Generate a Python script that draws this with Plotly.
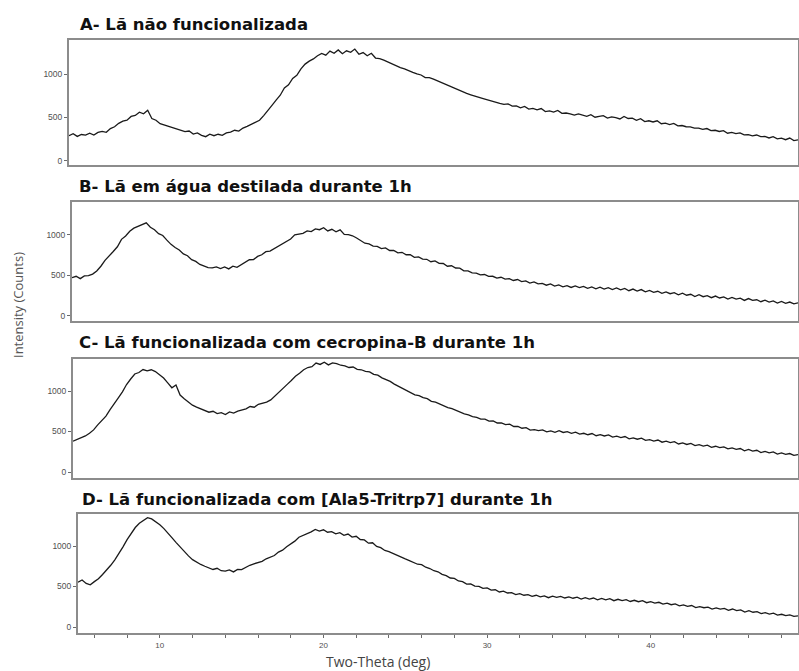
import plotly.graph_objects as go

# ---------------- data ----------------
two_theta_start = 5.0
two_theta_step = 0.25
n_points = 177
two_theta = [two_theta_start + two_theta_step * i for i in range(n_points)]

intensity_a = [
    290, 312, 281, 303, 296, 318, 297, 327, 338, 328, 372, 393,
    432, 458, 468, 512, 523, 561, 542, 583, 488, 468, 428, 412,
    396, 378, 368, 347, 336, 343, 308, 322, 294, 278, 306, 289,
    306, 293, 322, 331, 352, 343, 378, 398, 422, 446, 468, 522,
    588, 641, 702, 758, 842, 878, 952, 988, 1062, 1118, 1152, 1178,
    1214, 1242, 1222, 1268, 1244, 1282, 1238, 1272, 1254, 1292, 1232, 1252,
    1214, 1243, 1188, 1182, 1164, 1142, 1118, 1102, 1078, 1063, 1047, 1022,
    1004, 992, 962, 962, 944, 923, 898, 882, 858, 838, 818, 793,
    778, 762, 743, 732, 718, 703, 688, 672, 662, 652, 658, 632,
    634, 612, 628, 598, 606, 588, 603, 568, 577, 562, 582, 548,
    552, 543, 528, 542, 528, 514, 532, 503, 512, 522, 493, 507,
    498, 483, 512, 488, 492, 468, 487, 453, 462, 448, 462, 428,
    434, 418, 432, 403, 407, 393, 392, 378, 377, 363, 372, 348,
    352, 338, 347, 318, 327, 313, 322, 298, 302, 288, 297, 278,
    280, 263, 277, 253, 260, 243, 262, 233, 242,
]

intensity_b = [
    472, 490, 461, 494, 498, 517, 556, 614, 686, 747, 796, 854,
    946, 987, 1046, 1084, 1106, 1137, 1150, 1096, 1064, 1016, 994, 936,
    884, 846, 814, 766, 744, 696, 674, 636, 614, 596, 594, 605,
    586, 605, 581, 614, 601, 634, 656, 694, 696, 735, 756, 794,
    800, 830, 851, 890, 920, 950, 1001, 1010, 1020, 1050, 1041, 1075,
    1065, 1090, 1050, 1070, 1040, 1064, 1006, 1005, 990, 962, 930, 898,
    890, 862, 860, 832, 840, 808, 810, 780, 786, 756, 756, 724,
    730, 702, 700, 670, 680, 650, 648, 614, 620, 592, 590, 558,
    556, 532, 530, 508, 512, 488, 490, 468, 478, 455, 462, 438,
    450, 425, 432, 405, 420, 396, 402, 380, 395, 368, 383, 360,
    375, 352, 370, 350, 366, 342, 358, 335, 356, 332, 350, 326,
    346, 322, 340, 312, 332, 308, 326, 298, 316, 292, 305, 280,
    298, 275, 288, 262, 282, 256, 268, 240, 262, 238, 250, 226,
    246, 222, 236, 208, 230, 208, 220, 192, 215, 192, 200, 176,
    196, 172, 186, 160, 180, 156, 172, 150, 162,
]

intensity_c = [
    380, 402, 418, 445, 478, 520, 582, 630, 690, 770, 838, 915,
    990, 1080, 1148, 1210, 1228, 1265, 1248, 1262, 1240, 1205, 1160, 1100,
    1040, 1075, 950, 905, 862, 825, 800, 782, 762, 738, 750, 722,
    732, 710, 742, 728, 752, 770, 780, 808, 800, 836, 848, 862,
    890, 935, 982, 1030, 1082, 1130, 1182, 1220, 1262, 1290, 1300, 1345,
    1328, 1355, 1322, 1348, 1338, 1318, 1310, 1290, 1296, 1268, 1262, 1242,
    1236, 1205, 1195, 1162, 1142, 1118, 1085, 1060, 1032, 1005, 985, 952,
    942, 918, 905, 872, 862, 838, 820, 795, 782, 758, 742, 718,
    706, 685, 675, 652, 652, 628, 630, 605, 606, 585, 590, 562,
    562, 540, 548, 518, 522, 510, 520, 495, 508, 490, 510, 488,
    498, 478, 492, 468, 478, 460, 475, 448, 460, 445, 458, 430,
    442, 425, 438, 410, 422, 405, 418, 390, 400, 382, 395, 368,
    380, 362, 375, 346, 360, 340, 352, 325, 338, 320, 332, 305,
    318, 300, 310, 285, 298, 280, 290, 262, 278, 258, 268, 240,
    255, 236, 248, 222, 235, 218, 228, 205, 215,
]

intensity_d = [
    552, 580, 538, 520, 560, 595, 648, 700, 762, 830, 905, 990,
    1078, 1150, 1228, 1280, 1318, 1350, 1335, 1300, 1262, 1215, 1162, 1100,
    1042, 985, 932, 878, 832, 800, 772, 750, 732, 710, 725, 695,
    690, 705, 680, 712, 708, 740, 762, 780, 792, 810, 842, 860,
    882, 925, 948, 990, 1020, 1060, 1108, 1130, 1150, 1175, 1205, 1185,
    1200, 1170, 1178, 1150, 1165, 1132, 1148, 1110, 1120, 1080, 1075, 1035,
    1040, 995, 980, 945, 930, 905, 880, 862, 840, 820, 800, 775,
    770, 738, 722, 695, 682, 650, 635, 605, 600, 568, 560, 530,
    532, 505, 502, 478, 482, 455, 460, 432, 442, 420, 425, 400,
    412, 392, 400, 378, 392, 372, 385, 362, 380, 365, 378, 358,
    372, 355, 368, 345, 362, 345, 358, 335, 352, 335, 350, 325,
    342, 325, 338, 315, 330, 312, 325, 300, 312, 295, 305, 282,
    294, 275, 285, 262, 274, 255, 265, 240, 252, 238, 245, 222,
    237, 220, 230, 205, 222, 202, 212, 185, 202, 182, 190, 165,
    177, 160, 170, 148, 157, 140, 150, 132, 138,
]

panel_titles = [
    "A- Lã não funcionalizada",
    "B- Lã em água destilada durante 1h",
    "C- Lã funcionalizada com cecropina-B durante 1h",
    "D- Lã funcionalizada com [Ala5-Tritrp7] durante 1h",
]
y_tick_values = [0, 500, 1000]
x_axis_title = "Two-Theta (deg)"
y_axis_title = "Intensity (Counts)"

# ---------------- layout helpers ----------------
W, H = 799, 671


def fx(p):
    return p / W


def fy(p):
    return 1 - p / H


# panel boxes in pixels: (left, top, bottom), y-range
panels = [
    dict(left=69, top=40, bottom=165, yr=[-50, 1397], tx=78, ty=25),
    dict(left=72, top=202, bottom=321, yr=[-62, 1407], tx=77, ty=187),
    dict(left=73, top=359, bottom=478, yr=[-74, 1395], tx=77, ty=343),
    dict(left=78, top=514, bottom=633, yr=[-74, 1395], tx=80, ty=499),
]
series = [intensity_a, intensity_b, intensity_c, intensity_d]

FRAME = "#8c8c8c"
TICKC = "#6a6a6a"
LABELC = "#505050"

fig = go.Figure()
layout = dict(
    width=W, height=H,
    margin=dict(l=0, r=0, t=0, b=0),
    paper_bgcolor="white", plot_bgcolor="white",
    showlegend=False,
    annotations=[],
)

for i, (p, ys) in enumerate(zip(panels, series)):
    k = "" if i == 0 else str(i + 1)
    fig.add_trace(go.Scatter(
        x=two_theta, y=ys, mode="lines",
        line=dict(color="#1a1a1a", width=1.3),
        xaxis="x" + k, yaxis="y" + k, hoverinfo="skip",
    ))
    last = i == 3
    xa = dict(
        domain=[fx(p["left"]), fx(798)], range=[5, 49], anchor="y" + k,
        showline=True, mirror=True, linecolor=FRAME, linewidth=2,
        showgrid=False, zeroline=False,
    )
    if last:
        xa.update(
            ticks="outside", ticklen=3, tickwidth=1, tickcolor=TICKC,
            tick0=0, dtick=10, showticklabels=True,
            tickfont=dict(size=8, color=LABELC, family="Liberation Sans"),
            minor=dict(dtick=2, ticks="outside", ticklen=3, tickwidth=1,
                       tickcolor=TICKC, showgrid=False),
        )
    else:
        xa.update(ticks="", showticklabels=False)
    ya = dict(
        domain=[fy(p["bottom"]), fy(p["top"])], range=p["yr"], anchor="x" + k,
        showline=True, mirror=True, linecolor=FRAME, linewidth=2,
        showgrid=False, zeroline=False,
        tickmode="array", tickvals=y_tick_values,
        ticks="outside", ticklen=3, tickwidth=1, tickcolor=TICKC,
        tickfont=dict(size=8.5, color=LABELC, family="Liberation Sans"),
    )
    layout["xaxis" + k] = xa
    layout["yaxis" + k] = ya
    layout["annotations"].append(dict(
        text="<b>" + panel_titles[i] + "</b>",
        xref="paper", yref="paper", x=fx(p["tx"]), y=fy(p["ty"]),
        xanchor="left", yanchor="middle", showarrow=False,
        font=dict(size=16.5, color="#111111", family="DejaVu Sans"),
    ))

layout["annotations"].append(dict(
    text=y_axis_title, xref="paper", yref="paper",
    x=fx(18), y=fy(305), textangle=-90, showarrow=False,
    xanchor="center", yanchor="middle",
    font=dict(size=13, color="#555555", family="Open Sans"),
))
layout["annotations"].append(dict(
    text=x_axis_title, xref="paper", yref="paper",
    x=fx(378), y=fy(661), showarrow=False,
    xanchor="center", yanchor="middle",
    font=dict(size=14, color="#444444", family="Open Sans"),
))

fig.update_layout(**layout)
fig.write_html(
    "out.html",
    config={"displayModeBar": False},
    post_script="document.body.style.margin='0';document.body.style.overflow='hidden';",
)
